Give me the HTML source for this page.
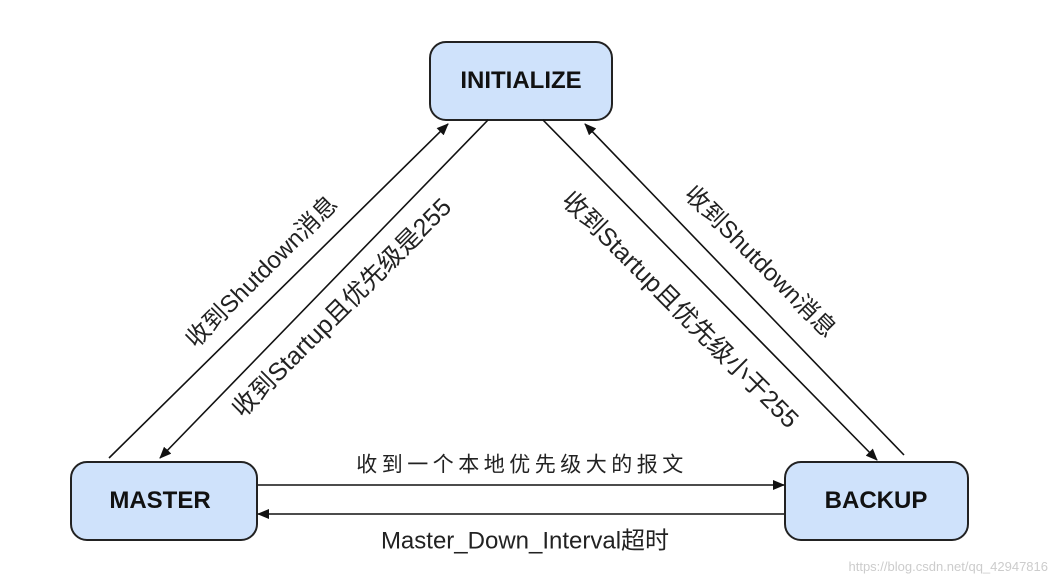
<!DOCTYPE html>
<html><head><meta charset="utf-8"><style>
html,body{margin:0;padding:0;background:#fff;}
svg{display:block}
text{font-family:"Liberation Sans","Noto Sans CJK SC",sans-serif;}
</style></head><body>
<svg width="1058" height="584" viewBox="0 0 1058 584" xmlns="http://www.w3.org/2000/svg">
<defs>
<marker id="a" markerWidth="12" markerHeight="10" refX="11" refY="5" orient="auto" markerUnits="userSpaceOnUse">
<path d="M0,0 L12,5 L0,10 z" fill="#111"/></marker>
</defs>
<rect x="430" y="42" width="182" height="78" rx="16" fill="#cfe2fb" stroke="#222" stroke-width="2"/>
<rect x="71" y="462" width="186" height="78" rx="16" fill="#cfe2fb" stroke="#222" stroke-width="2"/>
<rect x="785" y="462" width="183" height="78" rx="16" fill="#cfe2fb" stroke="#222" stroke-width="2"/>
<text x="521" y="88" font-size="24" font-weight="bold" text-anchor="middle" fill="#111">INITIALIZE</text>
<text x="160" y="508" font-size="24" font-weight="bold" text-anchor="middle" fill="#111">MASTER</text>
<text x="876" y="508" font-size="24" font-weight="bold" text-anchor="middle" fill="#111">BACKUP</text>
<g stroke="#111" stroke-width="1.6" fill="none">
<line x1="109" y1="458" x2="448" y2="124" marker-end="url(#a)"/>
<line x1="488" y1="120" x2="160" y2="458" marker-end="url(#a)"/>
<line x1="543" y1="120" x2="877" y2="460" marker-end="url(#a)"/>
<line x1="904" y1="455" x2="585" y2="124" marker-end="url(#a)"/>
<line x1="258" y1="485" x2="784" y2="485" marker-end="url(#a)"/>
<line x1="784" y1="514" x2="258" y2="514" marker-end="url(#a)"/>
</g>
<g font-size="24" fill="#222" text-anchor="middle" dominant-baseline="central">
<text x="522" y="465" font-size="21" letter-spacing="4.5">收到一个本地优先级大的报文</text>
<text x="525" y="541">Master_Down_Interval超时</text>
<text transform="translate(262,272) rotate(-45)">收到Shutdown消息</text>
<text transform="translate(342,308) rotate(-45)" font-size="25">收到Startup且优先级是255</text>
<text transform="translate(680,310) rotate(45)" font-size="25">收到Startup且优先级小于255</text>
<text transform="translate(760,262) rotate(45)">收到Shutdown消息</text>
</g>
<text x="1048" y="571" font-size="13" fill="#ccc" text-anchor="end">https://blog.csdn.net/qq_42947816</text>
</svg>
</body></html>
